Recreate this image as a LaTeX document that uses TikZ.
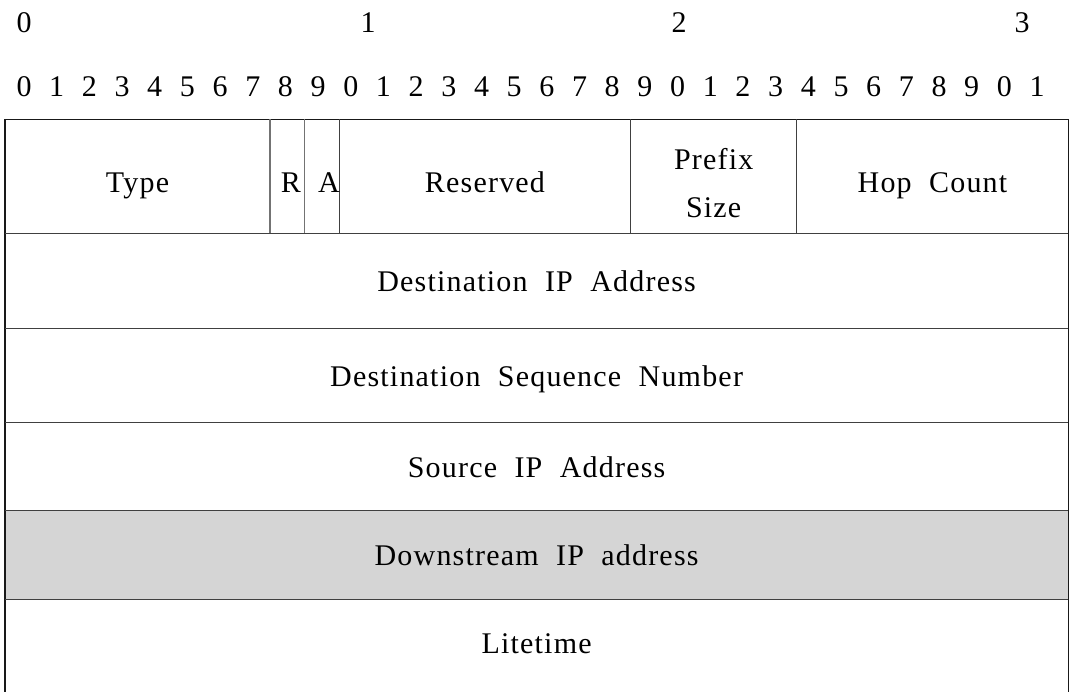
\documentclass[tikz,border=0pt]{standalone}
\usepackage{fontspec}
\setmainfont{Liberation Serif}[LetterSpace=4,WordSpace=2]
\definecolor{rowgray}{RGB}{213,213,213}
\begin{document}
\begin{tikzpicture}[x=1pt,y=-1pt,
  lbl/.style={inner sep=0pt,anchor=base,font=\fontsize{30}{36}\selectfont},
  frame/.style={line width=1.4pt,draw=black!90},
  hline/.style={line width=1.3pt,draw=black!75},
  div/.style={line width=1.2pt,draw=black!55}]
\useasboundingbox (0,0) rectangle (1075,692);
\clip (0,0) rectangle (1075,692);
% shaded row
\fill[rowgray] (5,510.7) rectangle (1068.3,599.3);
% outer frame (bottom edge lies outside the picture)
\draw[frame] (5,700) -- (5,119.3) -- (1068.3,119.3) -- (1068.3,700);
% row separators
\foreach \yy in {233.3,328.3,422.7,510.7,599.3}
  \draw[hline] (5,\yy) -- (1068.3,\yy);
% field dividers in first row
\foreach \xx in {270,304.7}
  \draw[div] (\xx,119.3) -- (\xx,233.3);
\foreach \xx in {339.3,630.7,796.7}
  \draw[hline] (\xx,119.3) -- (\xx,233.3);
% octet labels
\node[lbl] (t0) at (24,33) {0};
\node[lbl] (t1) at (368,33) {1};
\node[lbl] (t2) at (679,33) {2};
\node[lbl] (t3) at (1022,33) {3};
% bit labels
\foreach \i in {0,...,31}{
  \pgfmathtruncatemacro{\d}{mod(\i,10)}
  \node[lbl] (b\i) at ({24+32.68*\i},97) {\d};
}
% first row fields
\node[lbl] (type) at (137.5,193) {Type};
\node[lbl] (r) at (291,193) {R};
\node[lbl] (a) at (329,193) {A};
\node[lbl] (res) at (485,193) {Reserved};
\node[lbl] (pre) at (713.7,170) {Prefix};
\node[lbl] (size) at (713.7,218) {Size};
\node[lbl] (hop) at (932.5,193) {Hop Count};
% other rows
\node[lbl] (dip) at (536.6,292) {Destination IP Address};
\node[lbl] (dsn) at (536.6,386) {Destination Sequence Number};
\node[lbl] (sip) at (536.6,477) {Source IP Address};
\node[lbl] (down) at (536.6,565) {Downstream IP address};
\node[lbl] (life) at (536.6,653) {Litetime};
\end{tikzpicture}
\end{document}
